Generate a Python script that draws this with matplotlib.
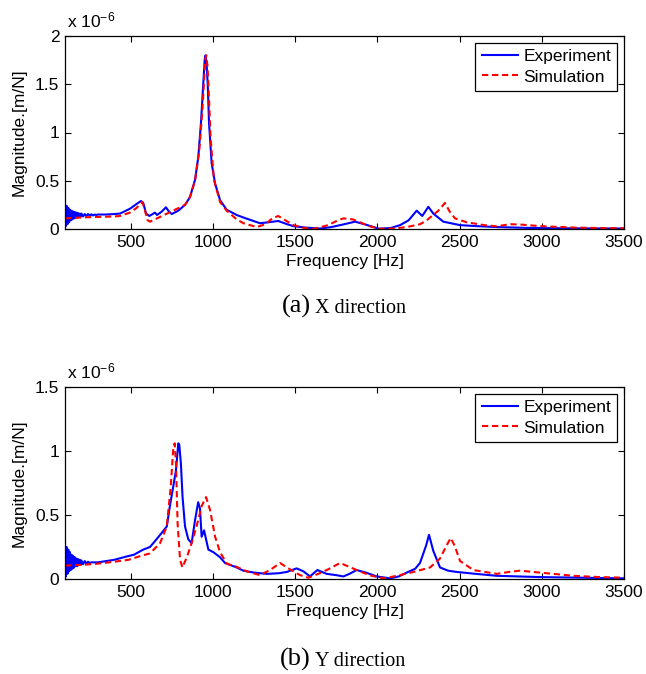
#!/usr/bin/env python3
"""
Frequency response functions: experiment vs simulation (X and Y direction).
Magnitudes are stored in units of 1e-6 m/N.
"""

import matplotlib
matplotlib.use('Agg')
import matplotlib.pyplot as plt

plt.rcParams['font.family'] = ['Liberation Sans', 'DejaVu Sans']
plt.rcParams['mathtext.default'] = 'regular'

# ----------------------------------------------------------------------------
# Data (magnitude in 1e-6 m/N)
# ----------------------------------------------------------------------------
# X direction - experiment
exp_x_freq = [100, 105, 110, 115, 120, 125, 130, 135, 140, 145, 150, 155, 160, 165,
              170, 175, 180, 185, 190, 195, 200, 210, 220, 230, 240, 250, 260, 270,
              280, 290, 300, 350, 400, 435, 495, 536, 562, 576, 593, 613, 633, 647,
              660, 688, 714, 728, 749, 789, 830, 860, 891, 911, 927, 941, 950, 955,
              961, 968, 976, 992, 1013, 1043, 1083, 1144, 1200, 1286, 1340, 1397,
              1450, 1489, 1560, 1651, 1720, 1800, 1864, 1920, 2010, 2080, 2138, 2190,
              2239, 2273, 2310, 2340, 2401, 2503, 2600, 2726, 2900, 3100, 3300, 3500]
exp_x_mag = [0.26, 0.03, 0.24, 0.05, 0.22, 0.07, 0.20, 0.09, 0.19, 0.10, 0.18, 0.11,
             0.175, 0.115, 0.17, 0.12, 0.165, 0.125, 0.16, 0.13, 0.16, 0.13, 0.155,
             0.135, 0.155, 0.14, 0.152, 0.14, 0.15, 0.145, 0.15, 0.15, 0.155, 0.16,
             0.21, 0.26, 0.29, 0.27, 0.16, 0.135, 0.155, 0.17, 0.145, 0.18, 0.225,
             0.19, 0.155, 0.19, 0.25, 0.33, 0.51, 0.75, 1.10, 1.51, 1.76, 1.80, 1.72,
             1.50, 1.10, 0.68, 0.47, 0.30, 0.20, 0.145, 0.11, 0.06, 0.07, 0.083, 0.05,
             0.03, 0.015, 0.005, 0.02, 0.05, 0.076, 0.05, 0.003, 0.01, 0.04, 0.09,
             0.19, 0.135, 0.23, 0.16, 0.076, 0.04, 0.03, 0.02, 0.012, 0.008, 0.006,
             0.005]

# X direction - simulation
sim_x_freq = [100, 200, 300, 400, 435, 495, 536, 569, 581, 601, 617, 721, 830, 860,
              891, 917, 937, 953, 959, 966, 972, 986, 1006, 1043, 1083, 1144, 1185,
              1266, 1320, 1360, 1397, 1440, 1489, 1560, 1610, 1700, 1760, 1793, 1850,
              1894, 1950, 2010, 2100, 2178, 2260, 2300, 2371, 2411, 2440, 2472, 2543,
              2650, 2726, 2807, 2880, 2989, 3190, 3350, 3500]
sim_x_mag = [0.11, 0.12, 0.125, 0.13, 0.135, 0.17, 0.22, 0.28, 0.23, 0.093, 0.076,
             0.16, 0.25, 0.33, 0.50, 0.82, 1.27, 1.76, 1.80, 1.70, 1.51, 0.93, 0.51,
             0.28, 0.19, 0.10, 0.06, 0.02, 0.05, 0.11, 0.135, 0.09, 0.04, 0.01, 0.0,
             0.04, 0.09, 0.11, 0.10, 0.07, 0.03, 0.003, 0.005, 0.02, 0.05, 0.09, 0.19,
             0.27, 0.18, 0.11, 0.07, 0.04, 0.028, 0.05, 0.045, 0.03, 0.015, 0.01,
             0.008]

# Y direction - experiment
exp_y_freq = [100, 105, 110, 115, 120, 125, 130, 135, 140, 145, 150, 155, 160, 165,
              170, 175, 180, 185, 190, 195, 200, 210, 220, 230, 240, 250, 260, 300,
              350, 400, 475, 520, 576, 617, 650, 688, 719, 738, 758, 775, 789, 795,
              805, 815, 830, 850, 870, 891, 910, 921, 931, 946, 958, 972, 1002, 1043,
              1073, 1104, 1144, 1185, 1250, 1327, 1400, 1449, 1509, 1550, 1590, 1635,
              1692, 1750, 1793, 1830, 1874, 1930, 1996, 2077, 2130, 2178, 2230, 2259,
              2296, 2314, 2340, 2381, 2430, 2483, 2600, 2726, 2989, 3250, 3500]
exp_y_mag = [0.28, 0.02, 0.25, 0.04, 0.23, 0.06, 0.21, 0.07, 0.19, 0.08, 0.18, 0.09,
             0.17, 0.10, 0.16, 0.10, 0.155, 0.11, 0.15, 0.11, 0.145, 0.115, 0.14,
             0.12, 0.135, 0.125, 0.13, 0.13, 0.14, 0.15, 0.176, 0.19, 0.23, 0.25,
             0.30, 0.36, 0.41, 0.57, 0.72, 0.85, 1.06, 1.05, 0.90, 0.64, 0.41, 0.31,
             0.28, 0.46, 0.60, 0.55, 0.33, 0.38, 0.31, 0.23, 0.21, 0.17, 0.125, 0.11,
             0.09, 0.065, 0.05, 0.04, 0.045, 0.055, 0.083, 0.06, 0.02, 0.07, 0.04,
             0.03, 0.02, 0.04, 0.07, 0.05, 0.02, 0.005, 0.02, 0.05, 0.08, 0.125, 0.26,
             0.345, 0.22, 0.09, 0.065, 0.055, 0.04, 0.025, 0.015, 0.01, 0.005]

# Y direction - simulation
sim_y_freq = [100, 200, 300, 400, 487, 560, 617, 678, 719, 743, 758, 767, 775, 785,
              800, 814, 841, 870, 900, 931, 958, 982, 1013, 1043, 1084, 1134, 1205,
              1286, 1347, 1408, 1450, 1489, 1530, 1580, 1640, 1692, 1773, 1820, 1874,
              1950, 2036, 2120, 2219, 2320, 2381, 2420, 2446, 2470, 2503, 2584, 2726,
              2800, 2868, 2989, 3192, 3350, 3500]
sim_y_mag = [0.105, 0.11, 0.12, 0.135, 0.15, 0.18, 0.20, 0.28, 0.41, 0.72, 1.01,
             1.06, 0.90, 0.43, 0.15, 0.09, 0.17, 0.28, 0.41, 0.57, 0.64, 0.54, 0.33,
             0.21, 0.12, 0.10, 0.06, 0.03, 0.07, 0.125, 0.09, 0.06, 0.03, 0.01, 0.04,
             0.07, 0.125, 0.10, 0.07, 0.03, 0.005, 0.025, 0.055, 0.09, 0.16, 0.26,
             0.32, 0.26, 0.14, 0.07, 0.04, 0.055, 0.065, 0.05, 0.025, 0.015, 0.01]

x_ticks = [500, 1000, 1500, 2000, 2500, 3000, 3500]
panels = [
    dict(exp=(exp_x_freq, exp_x_mag), sim=(sim_x_freq, sim_x_mag),
         ylim=2.0, yticks=[0, 0.5, 1, 1.5, 2], tag='(a)', caption='X direction'),
    dict(exp=(exp_y_freq, exp_y_mag), sim=(sim_y_freq, sim_y_mag),
         ylim=1.5, yticks=[0, 0.5, 1, 1.5], tag='(b)', caption='Y direction'),
]

# ----------------------------------------------------------------------------
# Figure
# ----------------------------------------------------------------------------
W, H = 646, 674
fig = plt.figure(figsize=(W / 100, H / 100), dpi=100)

# axes boxes in pixels: (left, top, right, bottom)
boxes = [(65, 36, 624, 229), (65, 387, 624, 579)]
caption_y = [313, 666]
FS = 12.5

for p, (l, t, r, b), cy in zip(panels, boxes, caption_y):
    ax = fig.add_axes([l / W, 1 - b / H, (r - l) / W, (b - t) / H])
    ax.plot(*p['exp'], color='#0000ff', linewidth=1.5, label='Experiment')
    ax.plot(*p['sim'], color='#ff0000', linewidth=1.5, linestyle=(0, (3, 1.8)),
            label='Simulation')

    ax.set_xlim(100, 3500)
    ax.set_ylim(0, p['ylim'])
    ax.set_xticks(x_ticks)
    ax.set_yticks(p['yticks'])
    ax.set_yticklabels([f'{v:g}' for v in p['yticks']])
    ax.tick_params(direction='in', length=4, width=0.8, top=True, right=True,
                   labelsize=FS, pad=4)
    for s in ax.spines.values():
        s.set_linewidth(0.9)

    ax.set_xlabel('Frequency [Hz]', fontsize=FS, labelpad=3)
    ax.set_ylabel('Magnitude.[m/N]', fontsize=FS, labelpad=6)
    ax.text(0.004, 1.03, 'x 10$^{-6}$', transform=ax.transAxes, fontsize=FS,
            ha='left', va='bottom')

    leg = ax.legend(loc='upper right', fontsize=FS, frameon=True, fancybox=False,
                    edgecolor='black', framealpha=1, handlelength=2.1,
                    handletextpad=0.3, borderpad=0.35, labelspacing=0.3,
                    borderaxespad=0.4)
    leg.get_frame().set_linewidth(0.9)

    # caption below each panel
    fig.text(311 / W, 1 - cy / H, p['tag'], fontsize=19, ha='right', va='baseline',
             family='Liberation Serif')
    fig.text(315 / W, 1 - cy / H, p['caption'], fontsize=14.5, ha='left',
             va='baseline', family='Liberation Serif')

plt.savefig('out.png', dpi=100)
plt.close()
